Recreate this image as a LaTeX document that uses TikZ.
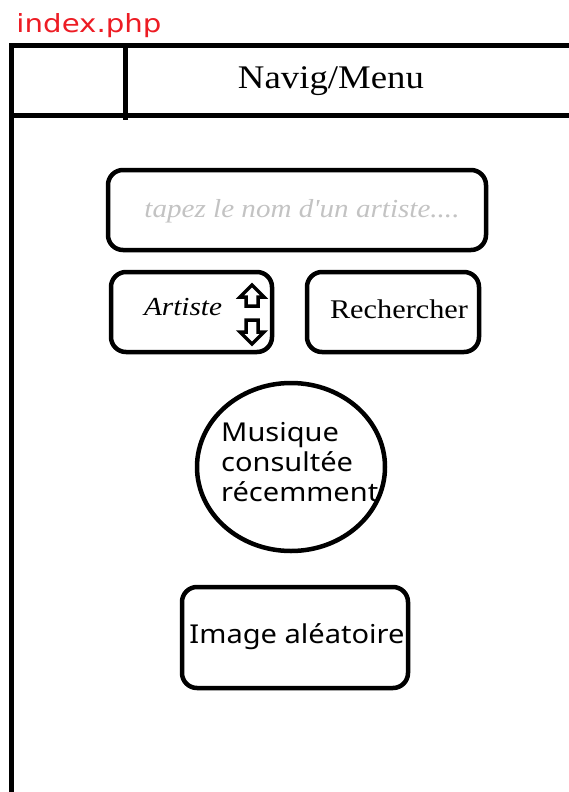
\documentclass[tikz,border=0pt]{standalone}
\usepackage{fontspec}
\usepackage{graphicx}
\setmainfont{Liberation Serif}
\setsansfont{Noto Sans}
\newfontfamily\redfont{DejaVu Sans}
\definecolor{phpred}{RGB}{237,28,36}
\definecolor{hintgrey}{RGB}{195,195,195}
\newcommand{\fitw}[2]{\resizebox{#1}{\height}{#2}}
\begin{document}
\begin{tikzpicture}[x=1pt,y=-1pt,
  frame/.style={line width=5pt, line cap=rect},
  roundbox/.style={line width=4.5pt, rounded corners=15pt},
  txt/.style={inner sep=0pt, anchor=center},
  blockarrow/.style={line width=3.5pt, line join=miter}]
\useasboundingbox (0,0) rectangle (568,792);
% outer frame
\coordinate (tl) at (11,46);
\coordinate (tr) at (570,46);
\coordinate (bl) at (11,795);
\coordinate (hl) at (11,115);
\coordinate (hr) at (570,115);
\coordinate (dt) at (125,46);
\coordinate (db) at (125,117);
\draw[frame] (bl) -- (tl) -- (tr);
\draw[frame] (hl) -- (hr);
\draw[frame] (dt) -- (db);
% title
\node[txt, text=phpred] (title) at (89,26) {\fitw{145pt}{\redfont\fontsize{25}{25}\selectfont index.php}};
\node[txt] (menu) at (331,81) {\fitw{186pt}{\fontsize{33}{33}\selectfont Navig/Menu}};
% search field
\draw[roundbox] (108,170) rectangle (486,250);
\node[txt, text=hintgrey] (hint) at (302,211) {\fitw{315pt}{\fontsize{26}{26}\selectfont\itshape tapez le nom d\textquotesingle un artiste....}};
% artist select
\draw[roundbox] (111,272) rectangle (272,352);
\node[txt] (artist) at (183,307) {\fitw{78pt}{\fontsize{26}{26}\selectfont\itshape Artiste}};
\draw[blockarrow] (252,285) -- (264,297) -- (258,297) -- (258,306) -- (246,306) -- (246,297) -- (240,297) -- cycle;
\draw[blockarrow] (252,344) -- (264,332) -- (258,332) -- (258,320) -- (246,320) -- (246,332) -- (240,332) -- cycle;
% search button
\draw[roundbox] (307,272) rectangle (479,352);
\node[txt] (search) at (399,309) {\fitw{138pt}{\fontsize{27}{27}\selectfont Rechercher}};
% recent music circle
\draw[line width=4.5pt] (291,467) ellipse [x radius=94, y radius=84];
\node[txt, anchor=north west] (recent) at (221,420) {\fitw{157pt}{\sffamily\fontsize{26}{30}\selectfont\begin{tabular}{@{}l@{}}Musique\\consultée\\récemment\end{tabular}}};
% random image
\draw[roundbox] (182,587) rectangle (408,688);
\node[txt] (image) at (297,637) {\fitw{215pt}{\sffamily\fontsize{26}{26}\selectfont Image aléatoire}};
\end{tikzpicture}
\end{document}
